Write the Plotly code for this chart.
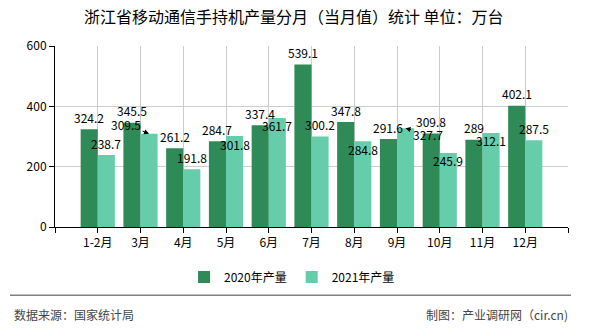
import plotly.graph_objects as go

categories = ["1-2月", "3月", "4月", "5月", "6月", "7月", "8月", "9月", "10月", "11月", "12月"]
series_2020 = [324.2, 345.5, 261.2, 284.7, 337.4, 539.1, 347.8, 291.6, 309.8, 289, 402.1]
series_2021 = [238.7, 309.5, 191.8, 301.8, 361.7, 300.2, 284.8, 327.7, 245.9, 312.1, 287.5]
names = ["2020年产量", "2021年产量"]
y_ticks = [0, 200, 400, 600]

# label placement (style): vertical pixel shift, or arrow offset (ax, ay)
label_dy_2021 = [12, None, 12, -8, -8, 12, -8, None, -8, -8, 12]
arrow_2021 = {1: (-23, -9), 7: (22, 6)}

FONT = "Noto Sans CJK SC, Noto Sans, sans-serif"
DARK = "#2e8b57"
LIGHT = "#66cdaa"

xs = list(range(len(categories)))

fig = go.Figure()
fig.add_trace(go.Bar(x=xs, y=series_2020, name=names[0], marker_color=DARK, marker_line_width=0))
fig.add_trace(go.Bar(x=xs, y=series_2021, name=names[1], marker_color=LIGHT, marker_line_width=0))

annotations = []
for i, v in enumerate(series_2020):
    annotations.append(dict(x=i - 0.2, y=v, xref="x", yref="y", text=f"{v:g}", showarrow=False,
                            xanchor="center", yanchor="middle", yshift=12,
                            font=dict(family=FONT, size=12, color="#000")))
for i, v in enumerate(series_2021):
    if i in arrow_2021:
        ax, ay = arrow_2021[i]
        annotations.append(dict(x=i + 0.2, y=v, xref="x", yref="y", text=f"{v:g}", showarrow=True,
                                ax=ax, ay=ay, arrowhead=2, arrowsize=1, arrowwidth=1, arrowcolor="#000",
                                xanchor="center", yanchor="middle",
                                font=dict(family=FONT, size=12, color="#000")))
    else:
        annotations.append(dict(x=i + 0.2, y=v, xref="x", yref="y", text=f"{v:g}", showarrow=False,
                                xanchor="center", yanchor="middle", yshift=label_dy_2021[i],
                                font=dict(family=FONT, size=12, color="#000")))

annotations.append(dict(xref="paper", yref="paper", x=-0.0838, y=-0.481, text="数据来源：国家统计局",
                        showarrow=False, xanchor="left", yanchor="middle",
                        font=dict(family=FONT, size=12, color="#444")))
annotations.append(dict(xref="paper", yref="paper", x=1.004, y=-0.481, text="制图：产业调研网（cir.cn)",
                        showarrow=False, xanchor="right", yanchor="middle",
                        font=dict(family=FONT, size=12, color="#444")))

fig.update_layout(
    width=590, height=330,
    margin=dict(l=55, r=22, t=46, b=101),
    paper_bgcolor="white", plot_bgcolor="white",
    barmode="group", bargap=0.2, bargroupgap=0,
    title=dict(text="浙江省移动通信手持机产量分月（当月值）统计 单位：万台",
               x=0.498, xanchor="center", y=1 - 17.5 / 330, yanchor="middle",
               font=dict(family=FONT, size=16, color="#000")),
    showlegend=True,
    legend=dict(orientation="h", xref="container", yref="container", x=0.495, xanchor="center",
                y=1 - 277 / 330, yanchor="middle", font=dict(family=FONT, size=12, color="#000"),
                itemwidth=30, bgcolor="rgba(0,0,0,0)"),
    annotations=annotations,
    shapes=[dict(type="line", xref="paper", yref="paper", x0=-0.0877, x1=1.0058, y0=-0.377, y1=-0.377,
                 line=dict(color="#808080", width=1.5))],
    xaxis=dict(range=[-1, 11], tickmode="array", tickvals=list(range(-1, len(categories) + 1)),
               ticktext=[""] + categories + [""], ticks="outside", ticklen=5, tickcolor="#000",
               showline=True, linecolor="#000", linewidth=1, showgrid=True, gridcolor="#cccccc",
               gridwidth=1, zeroline=False, tickfont=dict(family=FONT, size=12, color="#000")),
    yaxis=dict(range=[0, 600], tickmode="array", tickvals=y_ticks, ticks="outside", ticklen=5,
               tickcolor="#000", showline=True, linecolor="#000", linewidth=1, showgrid=True,
               gridcolor="#cccccc", gridwidth=1, zeroline=False,
               tickfont=dict(family=FONT, size=12, color="#000")),
)

fig.write_html("out.html")
